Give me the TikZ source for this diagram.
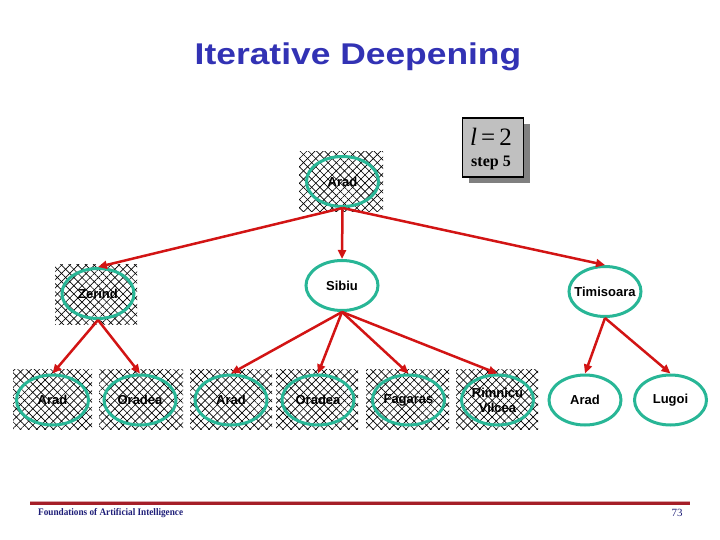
\documentclass[tikz,border=0pt]{standalone}
\usepackage{fontspec}
\setmainfont{Liberation Serif}
\setsansfont{Liberation Sans}
\usetikzlibrary{shapes.geometric,patterns.meta,arrows.meta,shadows}
\definecolor{titleblue}{RGB}{50,50,180}
\definecolor{teal1}{RGB}{40,182,150}
\definecolor{arrowred}{RGB}{210,20,20}
\definecolor{footred}{RGB}{165,30,40}
\definecolor{footblue}{RGB}{30,30,120}
\definecolor{boxgray}{RGB}{192,192,192}
\definecolor{shadowgray}{RGB}{128,128,128}
\tikzset{
  hatchbox/.style={minimum width=82pt,minimum height=60pt,inner sep=0pt,
    pattern={Lines[angle=45,distance=5.8pt,line width=0.65pt]},
    postaction={pattern={Lines[angle=-45,distance=5.8pt,line width=0.65pt]}}},
  city/.style={ellipse,draw=teal1,line width=3pt,minimum width=72pt,minimum height=50pt,inner sep=0pt},
  citytext/.style={font=\sffamily\bfseries\fontsize{13}{15}\selectfont,align=center,inner sep=0pt},
  edge/.style={draw=arrowred,line width=2.5pt,-{Triangle[length=9pt,width=8pt]}}
}
\begin{document}
\begin{tikzpicture}[x=1pt,y=-1pt]
\useasboundingbox (0,0) rectangle (720,540);
% title
\node[anchor=base,text=titleblue,font=\sffamily\bfseries\fontsize{30}{32}\selectfont,inner sep=0pt] (title) at (358,65) {\scalebox{1.18}[1]{Iterative Deepening}};
% l=2 box
\node[draw=black,line width=1.5pt,fill=boxgray,minimum width=61pt,minimum height=59pt,inner sep=0pt,
  drop shadow={shadow xshift=6pt,shadow yshift=-6pt,fill=shadowgray,opacity=1}] (lbox) at (493,147.5) {};
\node[anchor=base,inner sep=0pt,font=\fontsize{25}{25}\selectfont] (ltext) at (491,146) {\textit{l}\,=\,2};
\node[anchor=base,inner sep=0pt,font=\bfseries\fontsize{16}{16}\selectfont] (steptext) at (491,167) {step 5};
% hatch boxes
\node[hatchbox,minimum width=84pt] (h0) at (341,182) {};
\node[hatchbox] (h1) at (96,294) {};
\node[hatchbox,minimum width=79pt] (h2) at (52.5,399) {};
\node[hatchbox,minimum width=84pt] (h3) at (141,399) {};
\node[hatchbox] (h4) at (231,399) {};
\node[hatchbox] (h5) at (317,399) {};
\node[hatchbox,minimum width=83pt] (h6) at (407.5,399) {};
\node[hatchbox] (h7) at (497,399) {};
% city nodes
\node[city,label={[citytext]center:Arad}] (arad) at (342.5,181.5) {};
\node[city,label={[citytext]center:Zerind}] (zerind) at (98,293.5) {};
\node[city,label={[citytext]center:Sibiu}] (sibiu) at (342,285.5) {};
\node[city,label={[citytext]center:Timisoara}] (timisoara) at (605,291.5) {};
\node[city,label={[citytext]center:Arad}] (arad1) at (52.5,400) {};
\node[city,label={[citytext]center:Oradea}] (oradea1) at (140,400) {};
\node[city,label={[citytext]center:Arad}] (arad2) at (231,400) {};
\node[city,label={[citytext]center:Oradea}] (oradea2) at (318,400) {};
\node[city,label={[citytext]center:Fagaras}] (fagaras) at (408.5,400) {};
\node[city,label={[citytext]center:{Rimnicu\\Vilcea}}] (rimnicu) at (497.5,400) {};
\node[city,label={[citytext]center:Arad}] (arad3) at (585,400) {};
\node[city,label={[citytext]center:Lugoi}] (lugoi) at (670.5,400) {};
% edges
\draw[edge] (arad.south) -- (zerind.north);
\draw[edge] (arad.south) -- (sibiu.north);
\draw[edge] (arad.south) -- (timisoara.north);
\draw[edge] (zerind.south) -- (arad1.north);
\draw[edge] (zerind.south) -- (oradea1.north);
\draw[edge] (sibiu.south) -- (arad2.north);
\draw[edge] (sibiu.south) -- (oradea2.north);
\draw[edge] (sibiu.south) -- (fagaras.north);
\draw[edge] (sibiu.south) -- (rimnicu.north);
\draw[edge] (timisoara.south) -- (arad3.north);
\draw[edge] (timisoara.south) -- (lugoi.north);
% footer
\coordinate (fl) at (30,503.5);
\coordinate (fr) at (690,503.5);
\draw[footred!40,line width=1.5pt] ([yshift=1.5pt]fl) -- ([yshift=1.5pt]fr);
\draw[footred,line width=2.2pt] (fl) -- (fr);
\node[anchor=base west,inner sep=0pt,text=footblue,font=\bfseries\fontsize{10}{12}\selectfont] (foot) at (38,515.7) {\scalebox{0.92}[1]{Foundations of Artificial Intelligence}};
\node[anchor=base,inner sep=0pt,text=footblue,font=\fontsize{11}{12}\selectfont] (page) at (677,516) {73};
\end{tikzpicture}
\end{document}
